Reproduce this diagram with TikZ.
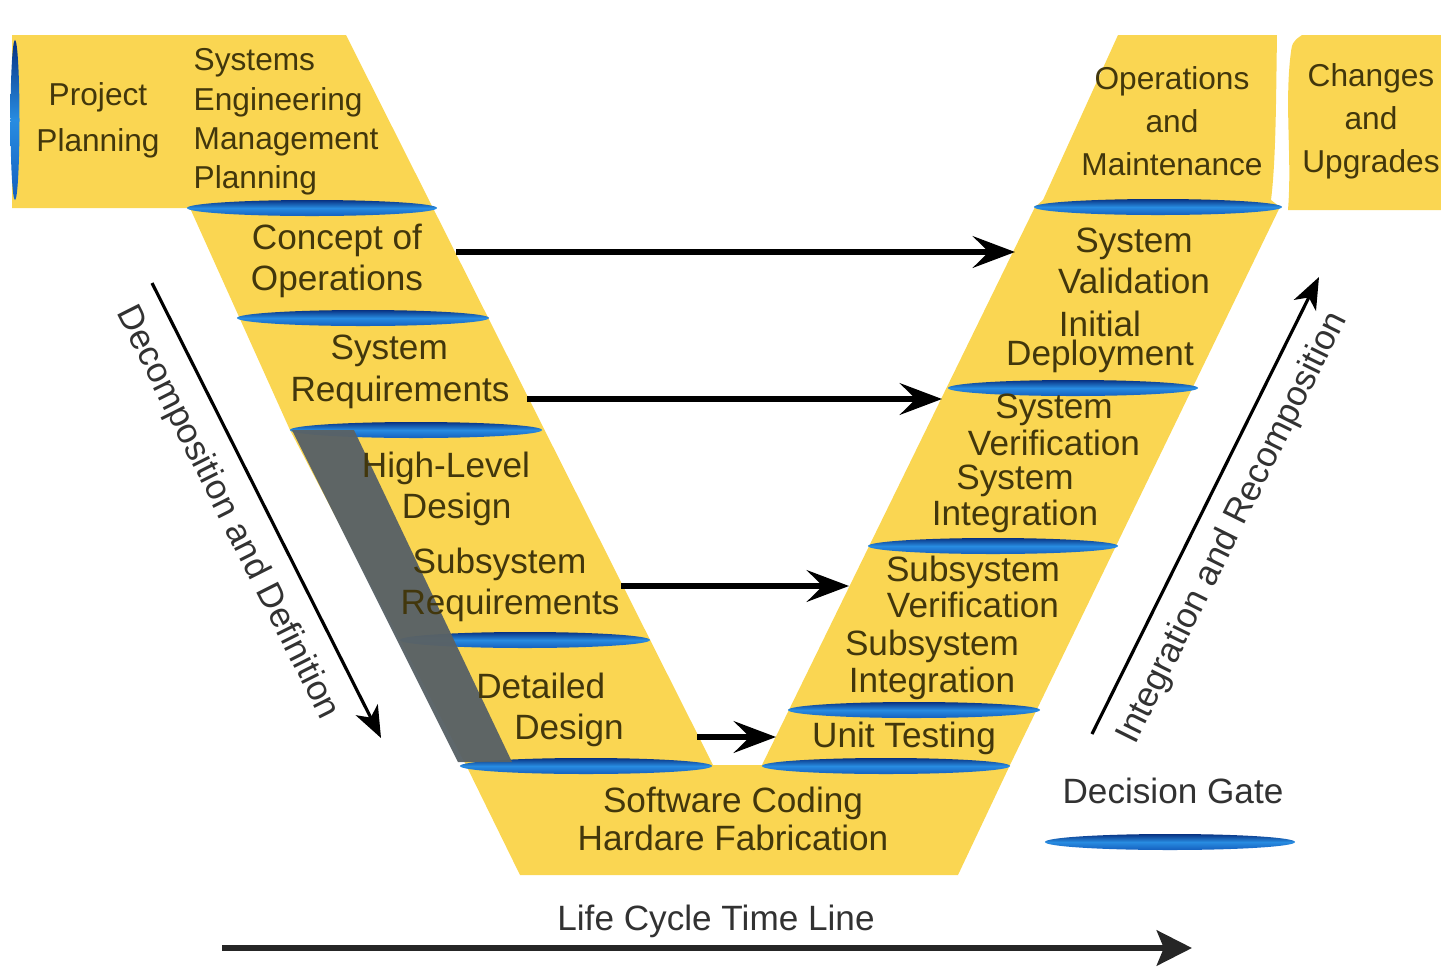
\documentclass[tikz,border=0pt]{standalone}
\usepackage{fontspec}
\setmainfont{Liberation Sans}
\usetikzlibrary{arrows.meta}
\definecolor{vyellow}{RGB}{250,214,82}
\definecolor{vtext}{RGB}{66,55,12}
\definecolor{vgray}{RGB}{89,98,102}
\definecolor{gdark}{RGB}{8,50,130}
\definecolor{gmid}{RGB}{40,140,225}
\definecolor{glight}{RGB}{20,95,190}
\definecolor{sidetext}{RGB}{50,50,50}
\begin{document}
\begin{tikzpicture}[x=0.01cm,y=-0.01cm,
  lbl/.style={text=vtext, font=\fontsize{10}{11.8}\selectfont, align=center, inner sep=0pt},
  lbltight/.style={lbl, font=\fontsize{10}{9.2}\selectfont},
  lblsmall/.style={lbl, font=\fontsize{9}{12.2}\selectfont},
  gate/.style={draw=none, top color=gdark, bottom color=glight, middle color=gmid},
  harrow/.style={line width=1.5pt, -{Stealth[length=12pt,width=9pt,inset=4.5pt]}},
  darrow/.style={line width=0.9pt, -{Stealth[length=9pt,width=7pt,inset=2.5pt]}},
  tarrow/.style={line width=1.7pt, draw=black!85, -{Stealth[length=10pt,width=10pt,inset=2pt]}},
  sidelbl/.style={text=sidetext, font=\fontsize{10}{12}\selectfont, inner sep=0pt}
]
\useasboundingbox (0,0) rectangle (1441,969);

% yellow V shape
\fill[vyellow] (12,35) -- (346,35) -- (713,765) -- (762,765) -- (1035,207) -- (1043,200)
  -- (1118,35) -- (1277,35) .. controls (1276,100) and (1276,160) .. (1271,200) -- (1280,207)
  -- (1010,765) -- (958,875) -- (520,875) -- (466,765) -- (290,430) -- (190,208) -- (12,208) -- cycle;
% changes and upgrades box
\fill[vyellow] (1302,35) -- (1441,35) -- (1441,210) -- (1288,210)
  .. controls (1292,160) and (1285,110) .. (1290,60) .. controls (1292,42) .. (1302,35) -- cycle;

% decision gates
\path[gate] (15,120) ellipse [x radius=0.045cm, y radius=0.8cm];
\path[gate] (312,208) ellipse [x radius=1.25cm, y radius=0.08cm];
\path[gate] (363,318) ellipse [x radius=1.26cm, y radius=0.08cm];
\path[gate] (416,430) ellipse [x radius=1.26cm, y radius=0.08cm];
\path[gate] (525,640) ellipse [x radius=1.25cm, y radius=0.08cm];
\path[gate] (586,766) ellipse [x radius=1.26cm, y radius=0.08cm];
\path[gate] (1158,207) ellipse [x radius=1.24cm, y radius=0.08cm];
\path[gate] (1073,388) ellipse [x radius=1.25cm, y radius=0.08cm];
\path[gate] (993,546) ellipse [x radius=1.25cm, y radius=0.08cm];
\path[gate] (914,710) ellipse [x radius=1.26cm, y radius=0.08cm];
\path[gate] (886,766) ellipse [x radius=1.24cm, y radius=0.08cm];
\path[gate] (1170,842) ellipse [x radius=1.25cm, y radius=0.08cm];

% gray overlay
\fill[vgray, opacity=0.97] (292,430) -- (354,430) -- (512,762) -- (458,762) -- cycle;

% labels
\node[lbl, font=\fontsize{9}{13}\selectfont] (pp) at (98,120) {Project\\Planning};
\node[lblsmall, align=left, font=\fontsize{9}{11.2}\selectfont, anchor=west] (semp) at (193,122) {Systems\\Engineering\\Management\\Planning};
\node[lbl] (conops) at (337,261) {Concept of\\Operations};
\node[lbl, align=left] (sysreq) at (400,372) {\hspace{0.4cm}System\\Requirements};
\node[lbl, align=left] (hld) at (446,489) {High-Level\\\hspace{0.4cm}Design};
\node[lbl, align=left] (subreq) at (510,585) {\hspace{0.12cm}Subsystem\\Requirements};
\node[lbl, align=left] (dd) at (550,710) {Detailed\\\hspace{0.38cm}Design};
\node[lbl, font=\fontsize{10}{10.8}\selectfont] (swhw) at (733,819) {Software Coding\\Hardare Fabrication};
\node[lblsmall] (om) at (1172,121) {Operations\\and\\Maintenance};
\node[lblsmall] (cu) at (1371,121) {Changes\\and\\Upgrades};
\node[lbl] (sval) at (1134,261) {System\\Validation};
\node[lbl, font=\fontsize{10}{8.2}\selectfont] (idep) at (1100,342) {Initial\\Deployment};
\node[lbltight] (sver) at (1054,425) {System\\Verification};
\node[lbltight] (sint) at (1015,499) {System\\Integration};
\node[lbltight] (ssver) at (973,587) {Subsystem\\Verification};
\node[lbltight] (ssint) at (932,665) {Subsystem\\Integration};
\node[lbl] (ut) at (904,738) {Unit Testing};
\node[sidelbl] (dg) at (1173,791) {Decision Gate};
\node[sidelbl] (lc) at (716,921) {Life Cycle Time Line};
\node[sidelbl, rotate=-63.3] (dec) at (227,513) {Decomposition and Definition};
\node[sidelbl, rotate=63.6] (intg) at (1233,528) {Integration and Recomposition};

% arrow end points
\coordinate (a1s) at (456,252);
\coordinate (a1e) at (1015,252);
\coordinate (a2s) at (527,399);
\coordinate (a2e) at (942,399);
\coordinate (a3s) at (621,586);
\coordinate (a3e) at (849,586);
\coordinate (a4s) at (697,737);
\coordinate (a4e) at (776,737);
\coordinate (ds) at (152,283);
\coordinate (de) at (381,738);
\coordinate (is) at (1092,734);
\coordinate (ie) at (1319,277);
\coordinate (ts) at (222,948);
\coordinate (te) at (1192,948);

\draw[harrow] (a1s) -- (a1e);
\draw[harrow] (a2s) -- (a2e);
\draw[harrow] (a3s) -- (a3e);
\draw[harrow] (a4s) -- (a4e);
\draw[darrow] (ds) -- (de);
\draw[darrow] (is) -- (ie);
\draw[tarrow] (ts) -- (te);
\end{tikzpicture}
\end{document}
